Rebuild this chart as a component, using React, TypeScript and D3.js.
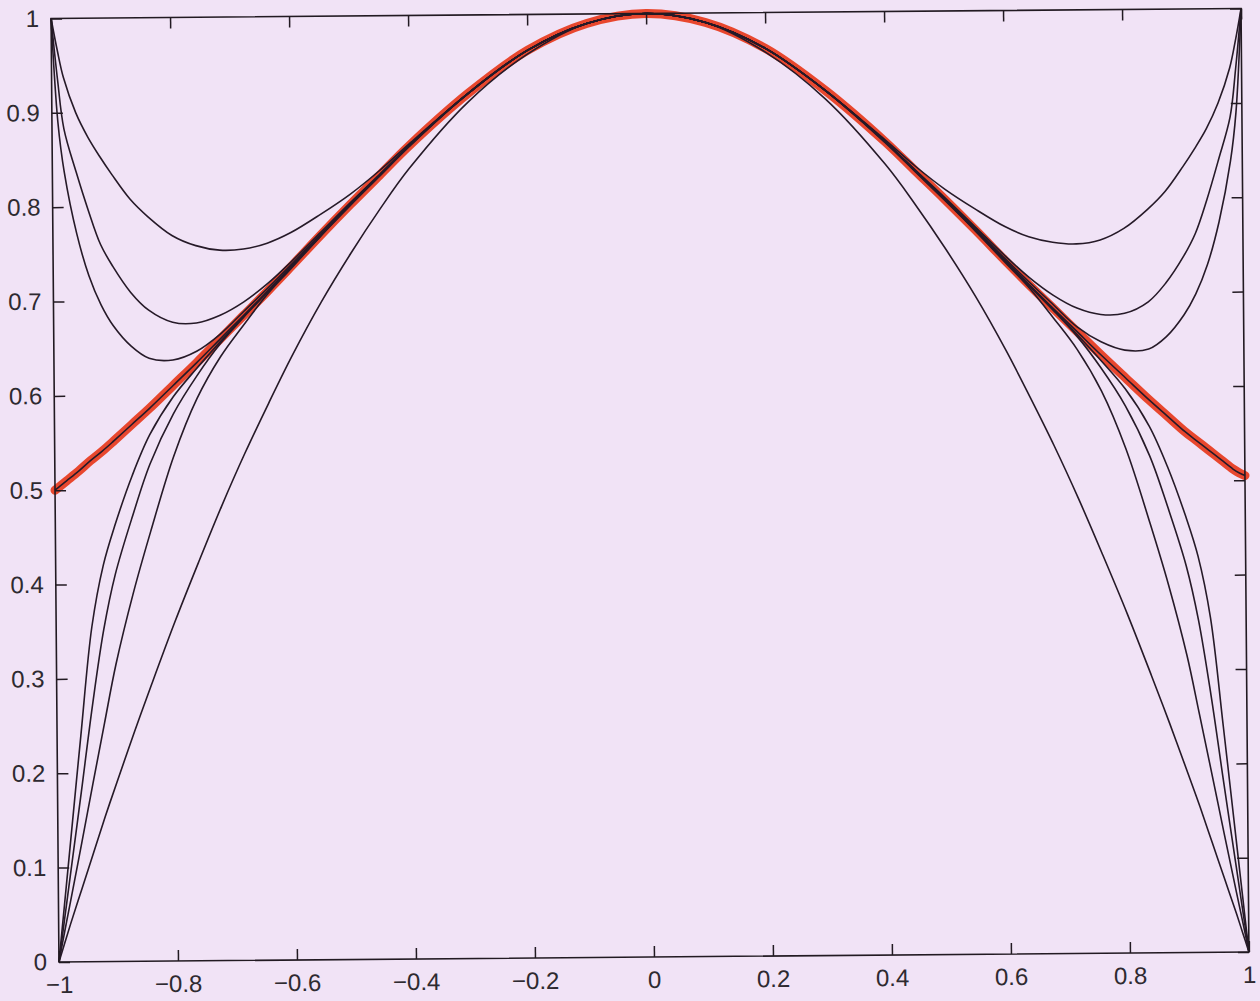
import { useRef, useEffect } from "react";
import * as d3 from "d3";

// sample positions along x
const xGrid = [
  -1, -0.99, -0.98, -0.96, -0.94, -0.92, -0.9, -0.87, -0.84, -0.8, -0.76,
  -0.72, -0.68, -0.64, -0.6, -0.55, -0.5, -0.45, -0.4, -0.3, -0.2, -0.1, 0,
  0.1, 0.2, 0.3, 0.4, 0.45, 0.5, 0.55, 0.6, 0.64, 0.68, 0.72, 0.76, 0.8, 0.84,
  0.87, 0.9, 0.92, 0.94, 0.96, 0.98, 0.99, 1,
];

// middle curve (also the one traced in red marker)
const middle = [
  0.5, 0.505, 0.51, 0.52, 0.531, 0.541, 0.552, 0.569, 0.586, 0.61, 0.634,
  0.659, 0.684, 0.709, 0.735, 0.768, 0.8, 0.831, 0.862, 0.917, 0.962, 0.99, 1,
  0.99, 0.962, 0.917, 0.862, 0.831, 0.8, 0.768, 0.735, 0.709, 0.684, 0.659,
  0.634, 0.61, 0.586, 0.569, 0.552, 0.542, 0.532, 0.522, 0.512, 0.508, 0.505,
];

// curves pinned at 1 on both ends
const upper1 = [
  1, 0.966, 0.937, 0.9, 0.874, 0.853, 0.834, 0.808, 0.789, 0.769, 0.758,
  0.753, 0.754, 0.76, 0.771, 0.79, 0.811, 0.836, 0.864, 0.917, 0.962, 0.99, 1,
  0.99, 0.962, 0.917, 0.864, 0.836, 0.811, 0.79, 0.771, 0.76, 0.754, 0.752,
  0.756, 0.768, 0.788, 0.807, 0.833, 0.852, 0.873, 0.9, 0.937, 0.966, 1,
];
const upper2 = [
  1, 0.935, 0.883, 0.837, 0.796, 0.76, 0.737, 0.709, 0.69, 0.677, 0.676,
  0.684, 0.698, 0.717, 0.74, 0.771, 0.802, 0.832, 0.862, 0.917, 0.962, 0.99, 1,
  0.99, 0.962, 0.917, 0.862, 0.832, 0.802, 0.771, 0.74, 0.717, 0.698, 0.684,
  0.677, 0.678, 0.69, 0.71, 0.738, 0.762, 0.798, 0.84, 0.885, 0.936, 1,
];
const upper3 = [
  1, 0.89, 0.837, 0.772, 0.727, 0.696, 0.674, 0.652, 0.639, 0.637, 0.646,
  0.664, 0.688, 0.712, 0.737, 0.769, 0.8, 0.831, 0.862, 0.917, 0.962, 0.99, 1,
  0.99, 0.962, 0.917, 0.862, 0.831, 0.8, 0.769, 0.737, 0.712, 0.688, 0.664,
  0.648, 0.639, 0.64, 0.653, 0.676, 0.698, 0.729, 0.774, 0.838, 0.89, 1,
];

// curves pinned at 0 on both ends
const lower1 = [
  0, 0.06, 0.12, 0.24, 0.355, 0.42, 0.462, 0.515, 0.558, 0.598, 0.628, 0.656,
  0.683, 0.709, 0.735, 0.768, 0.8, 0.831, 0.862, 0.917, 0.962, 0.99, 1, 0.99,
  0.962, 0.917, 0.862, 0.831, 0.8, 0.768, 0.735, 0.709, 0.683, 0.656, 0.628,
  0.598, 0.558, 0.515, 0.462, 0.42, 0.355, 0.24, 0.12, 0.06, 0,
];
const lower2 = [
  0, 0.045, 0.09, 0.18, 0.272, 0.352, 0.41, 0.472, 0.527, 0.58, 0.62, 0.654,
  0.682, 0.708, 0.734, 0.767, 0.8, 0.831, 0.862, 0.917, 0.962, 0.99, 1, 0.99,
  0.962, 0.917, 0.862, 0.831, 0.8, 0.767, 0.734, 0.708, 0.682, 0.654, 0.62,
  0.58, 0.527, 0.472, 0.41, 0.352, 0.272, 0.18, 0.09, 0.045, 0,
];
const lower3 = [
  0, 0.032, 0.063, 0.126, 0.19, 0.253, 0.315, 0.39, 0.455, 0.535, 0.596, 0.64,
  0.674, 0.706, 0.733, 0.767, 0.799, 0.83, 0.861, 0.917, 0.962, 0.99, 1, 0.99,
  0.962, 0.917, 0.861, 0.83, 0.799, 0.767, 0.733, 0.706, 0.674, 0.64, 0.596,
  0.535, 0.455, 0.39, 0.315, 0.253, 0.19, 0.126, 0.063, 0.032, 0,
];
const lower4 = [
  0, 0.02, 0.04, 0.078, 0.116, 0.154, 0.19, 0.243, 0.294, 0.36, 0.422, 0.482,
  0.538, 0.59, 0.64, 0.697, 0.748, 0.795, 0.838, 0.908, 0.958, 0.99, 1, 0.99,
  0.958, 0.908, 0.838, 0.795, 0.748, 0.697, 0.64, 0.59, 0.538, 0.482, 0.422,
  0.36, 0.294, 0.243, 0.19, 0.154, 0.116, 0.078, 0.04, 0.02, 0,
];

const blackCurves = [upper1, upper2, upper3, middle, lower1, lower2, lower3, lower4];

const xTicks = [-1, -0.8, -0.6, -0.4, -0.2, 0, 0.2, 0.4, 0.6, 0.8, 1];
const yTicks = [0, 0.1, 0.2, 0.3, 0.4, 0.5, 0.6, 0.7, 0.8, 0.9, 1];

export default function App() {
  const svgRef = useRef<SVGSVGElement>(null);

  useEffect(() => {
    const W = 1260;
    const H = 1001;
    const left = 55;
    const right = 1245;
    const top = 13.5;
    const bottom = 957;

    const svg = d3.select(svgRef.current);
    svg.selectAll("*").remove();

    svg.append("rect").attr("width", W).attr("height", H).attr("fill", "#f1e3f6");

    // the scanned page is a little rotated
    const g = svg.append("g").attr("transform", `rotate(-0.48, 650, 485)`);

    const x = d3.scaleLinear().domain([-1, 1]).range([left, right]);
    const y = d3.scaleLinear().domain([0, 1]).range([bottom, top]);

    const line = d3
      .line<number>()
      .x((d, i) => x(xGrid[i]))
      .y((d) => y(d))
      .curve(d3.curveCatmullRom.alpha(0.5));

    // red marker over the middle curve
    g.append("path")
      .attr("d", line(middle))
      .attr("fill", "none")
      .attr("stroke", "#e8472e")
      .attr("stroke-width", 9)
      .attr("stroke-linecap", "round")
      .attr("stroke-linejoin", "round");

    g.selectAll(".curve")
      .data(blackCurves)
      .join("path")
      .attr("class", "curve")
      .attr("d", (d) => line(d))
      .attr("fill", "none")
      .attr("stroke", "#261a28")
      .attr("stroke-width", 1.6);

    const fmt = d3.format("");

    // axes, ticks pointing inward
    const styleAxis = (sel: any) => {
      sel.select(".domain").remove();
      sel.selectAll("line").attr("stroke", "#221a22").attr("stroke-width", 1.5);
      sel
        .selectAll("text")
        .attr("fill", "#2e2a30")
        .style("font-family", "'Liberation Sans', Arial, sans-serif")
        .style("font-size", "24px");
    };

    g.append("g")
      .attr("transform", `translate(0, ${bottom})`)
      .call(
        d3.axisBottom(x).tickValues(xTicks).tickSize(-11).tickPadding(14).tickFormat(fmt as any)
      )
      .call(styleAxis);
    g.append("g")
      .attr("transform", `translate(0, ${top})`)
      .call(d3.axisTop(x).tickValues(xTicks).tickSize(-11).tickFormat(() => ""))
      .call(styleAxis);
    g.append("g")
      .attr("transform", `translate(${left}, 0)`)
      .call(
        d3.axisLeft(y).tickValues(yTicks).tickSize(-11).tickPadding(12).tickFormat(fmt as any)
      )
      .call(styleAxis);
    g.append("g")
      .attr("transform", `translate(${right}, 0)`)
      .call(d3.axisRight(y).tickValues(yTicks).tickSize(-11).tickFormat(() => ""))
      .call(styleAxis);

    // frame
    g.append("rect")
      .attr("x", left)
      .attr("y", top)
      .attr("width", right - left)
      .attr("height", bottom - top)
      .attr("fill", "none")
      .attr("stroke", "#221a22")
      .attr("stroke-width", 1.6);
  }, []);

  return (
    <svg
      ref={svgRef}
      width={1260}
      height={1001}
      style={{ position: "absolute", left: 0, top: 0 }}
    ></svg>
  );
}
